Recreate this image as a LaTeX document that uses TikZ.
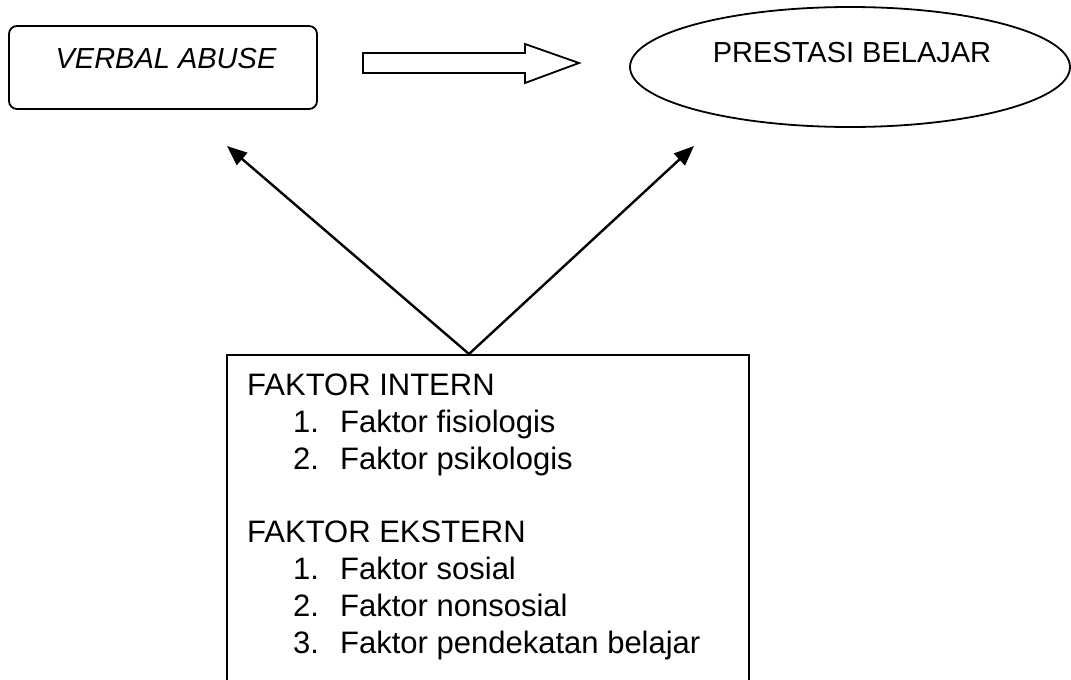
\documentclass[tikz,border=0pt]{standalone}
\usepackage{fontspec}
\setmainfont{Liberation Sans}
\usetikzlibrary{arrows.meta,shapes.geometric}
\begin{document}
\begin{tikzpicture}[x=1pt,y=-1pt,
  txt/.style={inner sep=0pt, anchor=base west, font=\fontsize{29}{37}\selectfont},
  ltxt/.style={inner sep=0pt, anchor=base west, font=\fontsize{31}{37}\selectfont},
  shape line/.style={draw, line width=1.8pt, inner sep=0pt},
  link/.style={line width=2.4pt, -{Triangle[length=20pt,width=16pt]}}]
\useasboundingbox (0,0) rectangle (1071,680);
% VERBAL ABUSE box
\node[shape line, rounded corners=8pt, minimum width=308pt, minimum height=83pt] (vabox) at (163,67.5) {};
\node[txt, anchor=base, font=\fontsize{29}{37}\selectfont\itshape] (vatext) at (166,68) {VERBAL ABUSE};
% block arrow
\draw[line width=1.8pt] (363,53) -- (525,53) -- (525,44) -- (579,63) -- (525,83) -- (525,73) -- (363,73) -- cycle;
% ellipse
\node[shape line, ellipse, minimum width=440pt, minimum height=120pt] (pb) at (850,67) {};
\node[txt, anchor=base] (pbtext) at (852,62) {PRESTASI BELAJAR};
% factor box
\node[shape line, anchor=north west, minimum width=522pt, minimum height=346pt] (fbox) at (226,354) {};
\node[ltxt] (fi) at (247,395) {FAKTOR INTERN};
\node[ltxt] (fi1n) at (293,432) {1.};
\node[ltxt] (fi1) at (340,432) {Faktor fisiologis};
\node[ltxt] (fi2n) at (293,469) {2.};
\node[ltxt] (fi2) at (340,469) {Faktor psikologis};
\node[ltxt] (fe) at (247,542) {FAKTOR EKSTERN};
\node[ltxt] (fe1n) at (293,579) {1.};
\node[ltxt] (fe1) at (340,579) {Faktor sosial};
\node[ltxt] (fe2n) at (293,616) {2.};
\node[ltxt] (fe2) at (340,616) {Faktor nonsosial};
\node[ltxt] (fe3n) at (293,653) {3.};
\node[ltxt] (fe3) at (340,653) {Faktor pendekatan belajar};
% arrows
\coordinate (j) at (469,354);
\coordinate (tipL) at (227,146);
\coordinate (tipR) at (694,146);
\draw[link] (j) -- (tipL);
\draw[link] (j) -- (tipR);
\end{tikzpicture}
\end{document}
